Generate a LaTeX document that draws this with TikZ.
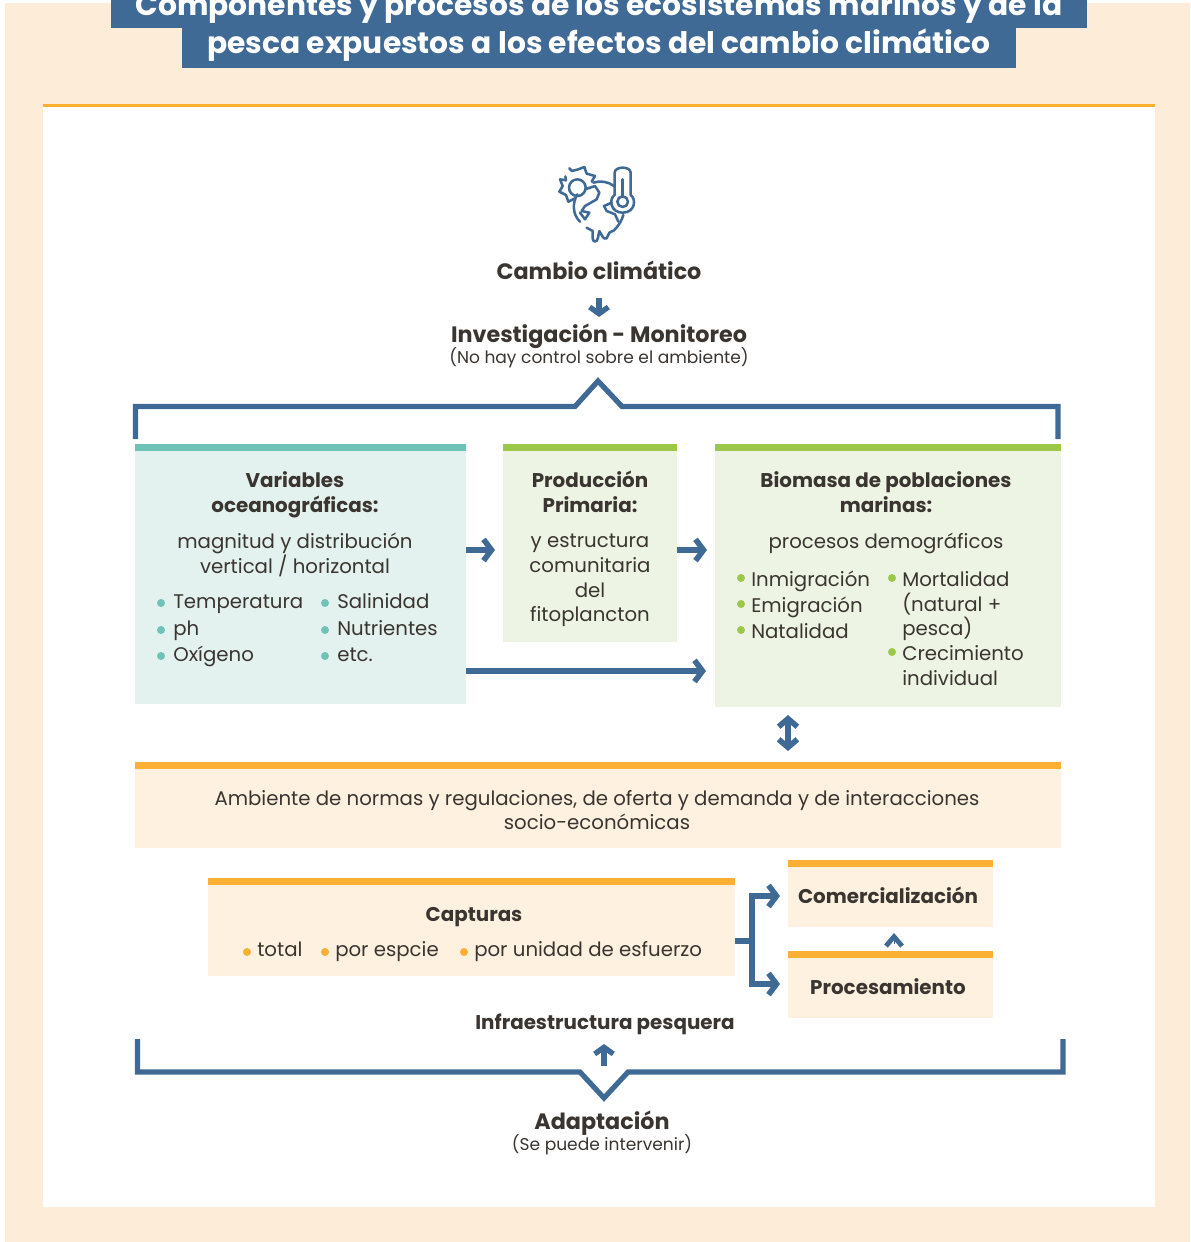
\documentclass[tikz,border=0pt]{standalone}
\usepackage{fontspec}
\setmainfont{Poppins}
\usetikzlibrary{arrows.meta,calc}
\definecolor{blu}{HTML}{3F6A96}
\definecolor{pagebg}{HTML}{FDEDD8}
\definecolor{org}{HTML}{FBB034}
\definecolor{orgbg}{HTML}{FEF1E0}
\definecolor{teal1}{HTML}{6FC2B8}
\definecolor{tealbg}{HTML}{E3F2EE}
\definecolor{grn}{HTML}{9BC74B}
\definecolor{grnbg}{HTML}{EEF4E4}
\definecolor{ink}{HTML}{3A3530}
\tikzset{
 txt/.style={text=ink,inner sep=0pt,align=center,font=\fontsize{14.8}{18.6}\selectfont},
 bold/.style={txt,font=\fontsize{14.9}{18.6}\selectfont\bfseries},
 big/.style={txt,font=\fontsize{16.7}{20}\selectfont\bfseries},
 small/.style={txt,font=\fontsize{12.8}{15}\selectfont},
 item/.style={txt,anchor=base west,align=left},
 ttl/.style={text=white,inner sep=0pt,font=\fontsize{22.3}{26}\selectfont\bfseries},
 conn/.style={blu,line width=4pt},
 arr/.style={conn,-{Straight Barb[length=6pt,width=16pt,line width=4.2pt]}},
 smallarr/.style={conn,-{Straight Barb[length=5pt,width=14pt,line width=4pt]}},
 bracket/.style={blu,line width=3.9pt,miter limit=10},
 dot/.style={circle,inner sep=0pt,minimum size=6pt},
 icon/.style={blu,line width=1.9pt,line cap=round,line join=round},
}
\newcommand{\panel}[7]{% name x1 y1 x2 y2 bar fill
 \fill[#7] (#2,#3) rectangle (#4,#5);
 \fill[#6] (#2,#3) rectangle (#4,#3+7);
 \coordinate (#1) at ($(#2,#3)!0.5!(#4,#5)$);
}
\begin{document}
\begin{tikzpicture}[x=0.75pt,y=-0.75pt]
\useasboundingbox (0,0) rectangle (1190,1242);
\clip (0,0) rectangle (1190,1242);
\fill[white] (0,0) rectangle (1190,1242);
\fill[pagebg] (5,3) rectangle (1190,1242);
\fill[white] (43,105) rectangle (1155,1207);
\fill[org] (43,104) rectangle (1155,107);
% title
\fill[blu] (111,-5) rectangle (1087,28);
\fill[blu] (182,28) rectangle (1016,68);
\node[ttl,anchor=base] (t1) at (599,15) {Componentes y procesos de los ecosistemas marinos y de la};
\node[ttl,anchor=base] (t2) at (599,53) {pesca expuestos a los efectos del cambio climático};
% icon
\begin{scope}[shift={(540,151)},x=0.25pt,y=-0.25pt]
\draw[icon] (112,110) circle (25);
\draw[icon] (88,52) -- (96,60) -- (115,55) -- (133,48) -- (140,68) -- (165,75) -- (155,92);
\draw[icon] (76,76) -- (78,88) -- (60,85) -- (68,105) -- (58,122) -- (78,132) -- (85,152) -- (105,142);
\draw[icon] (160,95) .. controls (180,88) and (205,92) .. (222,105);
\draw[icon] (112,130) .. controls (97,155) and (97,190) .. (120,212);
\draw[icon] (135,115) -- (165,105) -- (178,125) -- (170,145) -- (135,165) -- (125,180) -- (148,185) -- (135,205) -- (120,185);
\draw[icon] (215,155) -- (192,165) -- (200,180) -- (225,190) -- (235,212);
\draw[icon] (250,192) .. controls (245,210) and (235,225) .. (222,238) -- (208,245) -- (200,262) .. controls (190,268) and (185,250) .. (178,240) .. controls (175,250) and (175,272) .. (165,272) .. controls (155,272) and (158,250) .. (158,240) -- (140,230);
\draw[icon] (224,132) -- (224,65) .. controls (224,45) and (272,45) .. (272,65) -- (272,132) .. controls (290,145) and (285,185) .. (248,185) .. controls (212,185) and (205,145) .. (224,132) -- cycle;
\draw[icon] (248,152) circle (16);
\draw[icon] (248,136) -- (248,85);
\end{scope}
% heads
\node[big] (cc) at (599,270) {Cambio climático};
\node[big] (inv) at (599,336) {Investigación - Monitoreo};
\node[small] (nohay) at (599,357.5) {(No hay control sobre el ambiente)};
\draw[smallarr] (599,298) -- (599,317);
% top bracket
\draw[bracket] (135.5,439) -- (135.5,406.5) -- (575,406.5) -- (598,381) -- (622,406.5) -- (1058,406.5) -- (1058,439);
% panels
\panel{var}{135}{444}{466}{704}{teal1}{tealbg}
\panel{prim}{503}{444}{677}{642}{grn}{grnbg}
\panel{bio}{715}{444}{1061}{707}{grn}{grnbg}
\panel{amb}{135}{762}{1061}{848}{org}{orgbg}
\panel{cap}{208}{878}{735}{976}{org}{orgbg}
\panel{com}{788}{860}{993}{927}{org}{orgbg}
\panel{pro}{788}{951}{993}{1018}{org}{orgbg}
% variables
\node[bold] (v1) at (295,495) {Variables\\oceanográficas:};
\node[txt] (v2) at (295,555) {magnitud y distribución\\vertical / horizontal};
\foreach \n/\x/\y/\s in {a/173/608/Temperatura,b/173/635/ph,c/173/661/Oxígeno,d/337/608/Salinidad,e/337/635/Nutrientes,f/337/661/etc.}{
 \node[item] (v\n) at (\x,\y) {\s};
 \node[dot,fill=teal1] (dv\n) at (\x-12,\y-5) {};
}
% primaria
\node[bold] (p1) at (590,492) {Producción\\Primaria:};
\node[txt] (p2) at (590,580.5) {y estructura\\comunitaria\\del\\fitoplancton};
% biomasa
\node[bold] (b1) at (886,492.5) {Biomasa de poblaciones\\marinas:};
\node[txt] (b2) at (886,543) {procesos demográficos};
\foreach \n/\x/\y/\s in {a/751/586/Inmigración,b/751/612/Emigración,c/751/638/Natalidad,d/902/586/Mortalidad,g/902/660/Crecimiento}{
 \node[item] (b\n) at (\x,\y) {\s};
 \node[dot,fill=grn] (db\n) at (\x-10,\y-8) {};
}
\node[item] (be) at (902,611) {(natural +};
\node[item] (bf) at (902,635) {pesca)};
\node[item] (bh) at (902,685) {individual};
% ambiente
\node[txt] (a1) at (597,810) {Ambiente de normas y regulaciones, de oferta y demanda y de interacciones\\socio-económicas};
% capturas
\node[bold] (c1) at (474,917) {Capturas};
\foreach \n/\x/\s in {a/257/total,b/335/por espcie,c/474/por unidad de esfuerzo}{
 \node[item] (c\n) at (\x,956) {\s};
 \node[dot,fill=org] (dc\n) at (\x-10,952) {};
}
\node[bold] (k1) at (888,895) {Comercialización};
\node[bold] (k2) at (888,987) {Procesamiento};
% arrows
\draw[arr] (466,550) -- (495,550);
\draw[arr] (677,550) -- (707,550);
\draw[arr] (466,671) -- (706,671);
\draw[conn,{Straight Barb[length=6pt,width=14pt,line width=4.2pt]}-{Straight Barb[length=6pt,width=14pt,line width=4.2pt]}] (788,715) -- (788,751);
\draw[conn] (735,941) -- (752,941);
\draw[arr] (752,941) |- (780,896);
\draw[arr] (752,941) |- (780,984);
\draw[blu,line width=0.1pt,-{Straight Barb[length=7pt,width=12pt,line width=3.6pt]}] (894,944) -- (894,933);
% bottom
\node[bold] (inf) at (605,1024) {Infraestructura pesquera};
\draw[smallarr] (604,1066) -- (604,1044);
\draw[bracket] (137.5,1039) -- (137.5,1072) -- (580,1072) -- (604,1098) -- (628,1072) -- (1063,1072) -- (1063,1039);
\node[big] (ad) at (602,1123) {Adaptación};
\node[small] (se) at (602,1144.5) {(Se puede intervenir)};
\end{tikzpicture}
\end{document}
